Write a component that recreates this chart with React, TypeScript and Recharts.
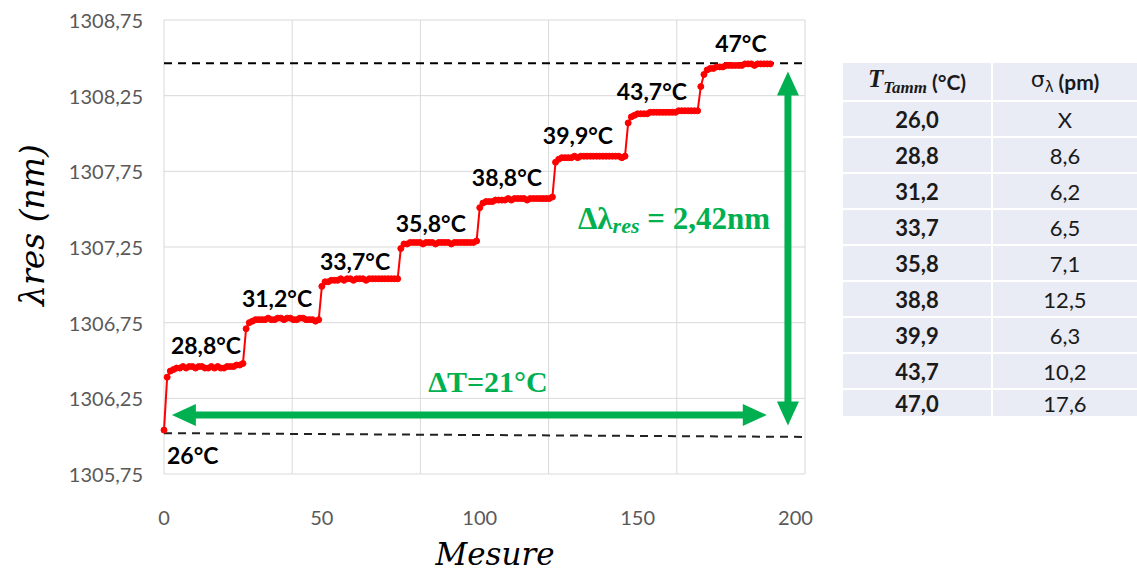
import React from "react";
import { LineChart, Line, XAxis, YAxis, CartesianGrid, ReferenceLine, ReferenceDot } from "recharts";

// measured resonance wavelength (nm), one list per temperature plateau
const STEP_26 = [1306.04];
const STEP_288 = [1306.39, 1306.43, 1306.44, 1306.45, 1306.45, 1306.46, 1306.45, 1306.46, 1306.46, 1306.45, 1306.46, 1306.46,
  1306.45, 1306.45, 1306.46, 1306.45, 1306.46, 1306.45, 1306.45, 1306.46, 1306.46, 1306.46, 1306.47, 1306.47, 1306.48];
const STEP_312 = [1306.71, 1306.75, 1306.76, 1306.77, 1306.77, 1306.77, 1306.77, 1306.78, 1306.77, 1306.77, 1306.78, 1306.78,
  1306.77, 1306.78, 1306.78, 1306.77, 1306.77, 1306.78, 1306.78, 1306.77, 1306.77, 1306.77, 1306.76, 1306.77];
const STEP_337 = [1306.99, 1307.02, 1307.02, 1307.03, 1307.03, 1307.03, 1307.04, 1307.03, 1307.04, 1307.04, 1307.03, 1307.04,
  1307.04, 1307.04, 1307.03, 1307.04, 1307.04, 1307.04, 1307.04, 1307.04, 1307.04, 1307.04, 1307.04, 1307.04, 1307.04];
const STEP_358 = [1307.24, 1307.27, 1307.27, 1307.28, 1307.28, 1307.28, 1307.28, 1307.27, 1307.28, 1307.28, 1307.28, 1307.27,
  1307.28, 1307.28, 1307.28, 1307.28, 1307.27, 1307.28, 1307.28, 1307.28, 1307.28, 1307.28, 1307.28, 1307.28, 1307.29];
const STEP_388 = [1307.51, 1307.54, 1307.55, 1307.55, 1307.55, 1307.56, 1307.56, 1307.56, 1307.56, 1307.57, 1307.56, 1307.57,
  1307.57, 1307.57, 1307.57, 1307.56, 1307.57, 1307.57, 1307.57, 1307.57, 1307.57, 1307.57, 1307.57, 1307.58];
const STEP_399 = [1307.81, 1307.83, 1307.84, 1307.84, 1307.84, 1307.84, 1307.85, 1307.84, 1307.85, 1307.85, 1307.85, 1307.85,
  1307.85, 1307.85, 1307.85, 1307.85, 1307.85, 1307.85, 1307.85, 1307.85, 1307.85, 1307.84, 1307.85];
const STEP_437 = [1308.07, 1308.11, 1308.12, 1308.13, 1308.13, 1308.13, 1308.13, 1308.14, 1308.14, 1308.14, 1308.14, 1308.14,
  1308.14, 1308.14, 1308.14, 1308.14, 1308.15, 1308.15, 1308.15, 1308.15, 1308.15, 1308.15, 1308.15];
const STEP_470 = [1308.31, 1308.39, 1308.42, 1308.43, 1308.43, 1308.44, 1308.44, 1308.44, 1308.45, 1308.45, 1308.45, 1308.45,
  1308.45, 1308.45, 1308.46, 1308.46, 1308.46, 1308.45, 1308.46, 1308.46, 1308.46, 1308.46, 1308.46];

const STEPS = [STEP_26, STEP_288, STEP_312, STEP_337, STEP_358, STEP_388, STEP_399, STEP_437, STEP_470];

const Y_TICKS = [1305.75, 1306.25, 1306.75, 1307.25, 1307.75, 1308.25, 1308.75];
const X_TICKS = [0, 50, 100, 150, 200];
const X_MAX = 203;
const GRID_X = [0, 40, 80, 120, 160, 200];

// temperature labels placed next to each plateau (x = mesure, y = nm)
const STEP_LABELS = [
  { text: "26°C", x: 0.95, y: 1305.875, anchor: "start" },
  { text: "28,8°C", x: 13.3, y: 1306.6, anchor: "middle" },
  { text: "31,2°C", x: 35.8, y: 1306.91, anchor: "middle" },
  { text: "33,7°C", x: 60.5, y: 1307.16, anchor: "middle" },
  { text: "35,8°C", x: 84.5, y: 1307.41, anchor: "middle" },
  { text: "38,8°C", x: 108.6, y: 1307.71, anchor: "middle" },
  { text: "39,9°C", x: 131.1, y: 1307.99, anchor: "middle" },
  { text: "43,7°C", x: 154.5, y: 1308.28, anchor: "middle" },
  { text: "47°C", x: 182.7, y: 1308.6, anchor: "middle" },
];

const TABLE_T = ["26,0", "28,8", "31,2", "33,7", "35,8", "38,8", "39,9", "43,7", "47,0"];
const TABLE_SIGMA = ["X", "8,6", "6,2", "6,5", "7,1", "12,5", "6,3", "10,2", "17,6"];

const GREEN = "#00b050";
const RED = "#ff0000";
const GRAY = "#595959";

const data: { x: number; y: number }[] = [];
STEPS.forEach(s => s.forEach(v => data.push({ x: data.length, y: v })));

const fmt = (v: number) => v.toFixed(2).replace(".", ",");

function YTick({ x, y, payload }: any) {
  return <text x={x - 21} y={y} textAnchor="end" dominantBaseline="central" fill={GRAY}
    fontSize={20} fontFamily="Lato">{fmt(payload.value)}</text>;
}

function XTick({ x, y, payload }: any) {
  return <text x={x} y={y + 43} textAnchor="middle" dominantBaseline="central" fill={GRAY}
    fontSize={20} fontFamily="Lato">{payload.value}</text>;
}

function DoubleArrow({ x1, y1, x2, y2 }: any) {
  const len = Math.hypot(x2 - x1, y2 - y1);
  const ux = (x2 - x1) / len, uy = (y2 - y1) / len;
  const nx = -uy, ny = ux;
  const H = 24, W = 11;
  const head = (tx: number, ty: number, d: number) => {
    const bx = tx - d * ux * H, by = ty - d * uy * H;
    return `${tx},${ty} ${bx + nx * W},${by + ny * W} ${bx - nx * W},${by - ny * W}`;
  };
  return (
    <g>
      <line x1={x1 + ux * (H - 2)} y1={y1 + uy * (H - 2)} x2={x2 - ux * (H - 2)} y2={y2 - uy * (H - 2)}
        stroke={GREEN} strokeWidth={7} />
      <polygon points={head(x2, y2, 1)} fill={GREEN} />
      <polygon points={head(x1, y1, -1)} fill={GREEN} />
    </g>
  );
}

const labelStyle = { fontFamily: "Lato", fontWeight: 700, fontSize: 23, fill: "#000" };

export default function App() {
  return (
    <div style={{ position: "absolute", left: 0, top: 0, width: 1137, height: 575, background: "#fff", fontFamily: "Lato" }}>
      <LineChart width={830} height={575} data={data} margin={{ top: 20, right: 25, bottom: 0, left: 0 }}>
        <XAxis xAxisId="grid" type="number" dataKey="x" domain={[0, 200]} ticks={GRID_X} hide />
        <CartesianGrid xAxisId="grid" stroke="#d9d9d9" />
        <XAxis type="number" dataKey="x" domain={[0, X_MAX]} ticks={X_TICKS} height={101}
          axisLine={false} tickLine={false} tickSize={0} tickMargin={0} tick={<XTick />}
          label={{
            content: ({ viewBox }: any) => (
              <text x={viewBox.x + 331} y={viewBox.y + 91} textAnchor="middle"
                fontFamily="DejaVu Serif" fontStyle="italic" fontSize={31} fill="#000">Mesure</text>
            ),
          }} />
        <YAxis type="number" domain={[1305.75, 1308.75]} ticks={Y_TICKS} width={164}
          axisLine={false} tickLine={false} tickSize={0} tickMargin={0} tick={<YTick />}
          label={{
            content: ({ viewBox }: any) => (
              <text transform={`translate(${viewBox.x + 32},225) rotate(-90)`} textAnchor="middle"
                dominantBaseline="central" fontFamily="DejaVu Serif" fontStyle="italic" fontSize={33} fill="#000">
                λres (nm)
              </text>
            ),
          }} />
        <ReferenceLine segment={[{ x: 0, y: 1308.465 }, { x: X_MAX, y: 1308.465 }]} stroke="#000"
          strokeWidth={2} strokeDasharray="8 6" />
        <ReferenceLine segment={[{ x: 0, y: 1306.02 }, { x: X_MAX, y: 1305.995 }]} stroke="#222"
          strokeWidth={2} strokeDasharray="8 6" />
        <Line type="linear" dataKey="y" stroke={RED} strokeWidth={2}
          dot={{ r: 3, fill: RED, stroke: RED, strokeWidth: 1 }} isAnimationActive={false} />
        <ReferenceLine segment={[{ x: 2.5, y: 1306.14 }, { x: 190.9, y: 1306.14 }]} shape={<DoubleArrow />} />
        <ReferenceLine segment={[{ x: 197.6, y: 1308.41 }, { x: 197.6, y: 1306.07 }]} shape={<DoubleArrow />} />
        {STEP_LABELS.map(l => (
          <ReferenceDot key={l.text} x={l.x} y={l.y} r={0}
            shape={(p: any) => (
              <text x={p.cx} y={p.cy} textAnchor={l.anchor as any} dominantBaseline="central" {...labelStyle}>{l.text}</text>
            )} />
        ))}
        <ReferenceDot x={102.6} y={1306.36} r={0}
          shape={(p: any) => (
            <text x={p.cx} y={p.cy} textAnchor="middle" dominantBaseline="central" fill={GREEN}
              fontFamily="Liberation Serif" fontWeight={700} fontSize={30}>ΔT=21°C</text>
          )} />
        <ReferenceDot x={161.5} y={1307.44} r={0}
          shape={(p: any) => (
            <text x={p.cx} y={p.cy} textAnchor="middle" dominantBaseline="central" fill={GREEN}
              fontFamily="Liberation Serif" fontWeight={700} fontSize={31}>
              Δλ<tspan fontStyle="italic" fontSize={22} dy={7}>res</tspan>
              <tspan dy={-7}> = 2,42nm</tspan>
            </text>
          )} />
      </LineChart>

      <div style={{ position: "absolute", left: 843, top: 63, width: 294, display: "grid",
        gridTemplateColumns: "148px 144px", columnGap: 2, rowGap: 2, background: "#fff", color: "#1a1a1a" }}>
        <div style={{ ...cell, height: 37 }}>
          <span style={{ fontFamily: "Liberation Serif", fontStyle: "italic", fontWeight: 700, fontSize: 25 }}>
            T<sub style={{ fontSize: 17 }}>Tamm</sub>
          </span>
          <span style={{ fontWeight: 700, fontSize: 21, marginLeft: 5 }}>(°C)</span>
        </div>
        <div style={{ ...cell, height: 37 }}>
          <span style={{ fontFamily: "DejaVu Sans", fontSize: 22 }}>σ<sub style={{ fontSize: 15 }}>λ</sub></span>
          <span style={{ fontWeight: 700, fontSize: 21, marginLeft: 5 }}>(pm)</span>
        </div>
        {TABLE_T.map((t, i) => (
          <React.Fragment key={t}>
            <div style={{ ...cell, height: i === TABLE_T.length - 1 ? 26 : 34, fontWeight: 700 }}>{t}</div>
            <div style={{ ...cell, height: i === TABLE_T.length - 1 ? 26 : 34 }}>{TABLE_SIGMA[i]}</div>
          </React.Fragment>
        ))}
      </div>
    </div>
  );
}

const cell: React.CSSProperties = {
  background: "#e9ebf5", display: "flex", alignItems: "center", justifyContent: "center",
  fontSize: 22, fontFamily: "Lato",
};
